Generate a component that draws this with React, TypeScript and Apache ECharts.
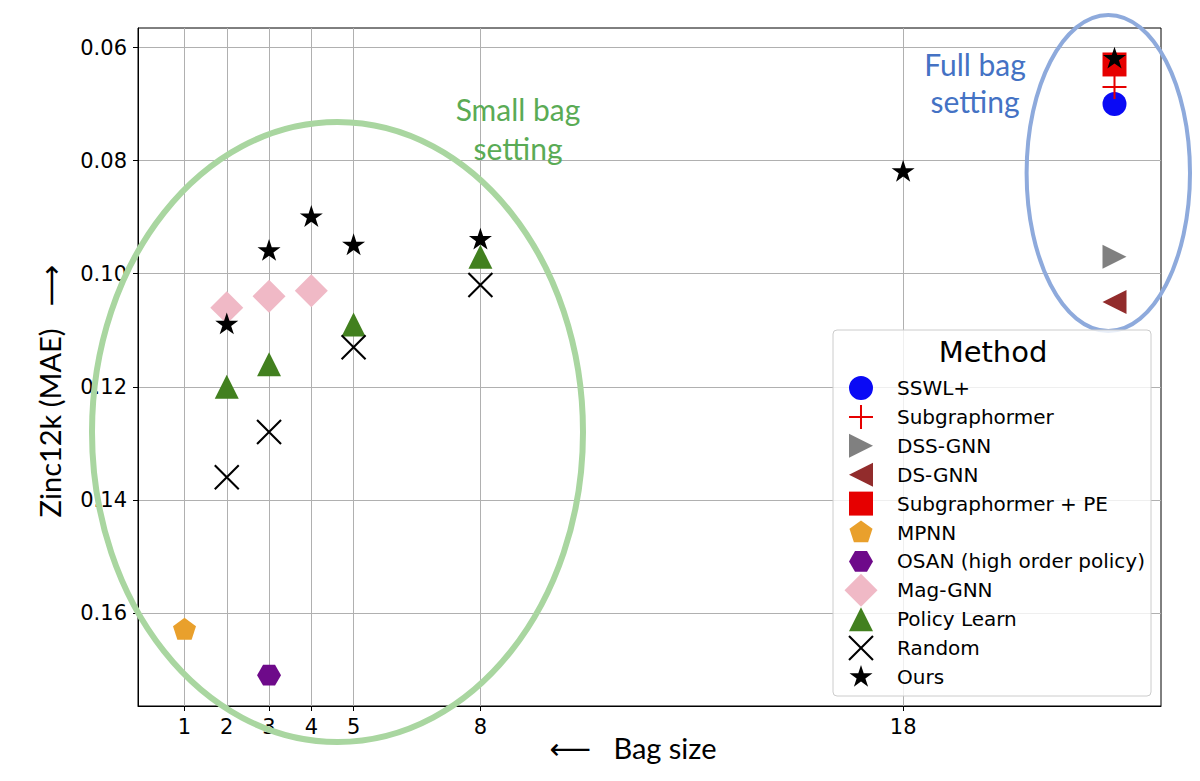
import React, { useEffect, useRef } from "react";
import * as echarts from "echarts";

// ---- data ----
const xTicks = [1, 2, 3, 4, 5, 8, 18];
const yTicks = [0.06, 0.08, 0.1, 0.12, 0.14, 0.16];

const methods = [
  "SSWL+",
  "Subgraphormer",
  "DSS-GNN",
  "DS-GNN",
  "Subgraphormer + PE",
  "MPNN",
  "OSAN (high order policy)",
  "Mag-GNN",
  "Policy Learn",
  "Random",
  "Ours",
];

const sswlBag = [23];
const sswlMae = [0.07];
const subgraphormerBag = [23];
const subgraphormerMae = [0.067];
const dssGnnBag = [23];
const dssGnnMae = [0.097];
const dsGnnBag = [23];
const dsGnnMae = [0.105];
const subgraphormerPeBag = [23];
const subgraphormerPeMae = [0.063];
const mpnnBag = [1];
const mpnnMae = [0.163];
const osanBag = [3];
const osanMae = [0.171];
const magGnnBag = [2, 3, 4];
const magGnnMae = [0.106, 0.104, 0.103];
const policyLearnBag = [2, 3, 5, 8];
const policyLearnMae = [0.12, 0.116, 0.109, 0.097];
const randomBag = [2, 3, 5, 8];
const randomMae = [0.136, 0.128, 0.113, 0.102];
const oursBag = [2, 3, 4, 5, 8, 18, 23];
const oursMae = [0.109, 0.096, 0.09, 0.095, 0.094, 0.082, 0.062];

// ---- marker shapes (100x100 frame so relative sizes are kept) ----
const FRAME = "M0 0M100 100";
const pt = (p: number[]) => p[0].toFixed(2) + " " + p[1].toFixed(2);
const poly = (pts: number[][]) => "M" + pts.map(pt).join("L") + "Z";
const regular = (n: number, R: number, startDeg: number) => {
  const pts: number[][] = [];
  for (let k = 0; k < n; k++) {
    const a = ((startDeg + (360 / n) * k) * Math.PI) / 180;
    pts.push([50 + R * Math.cos(a), 50 + R * Math.sin(a)]);
  }
  return pts;
};
const starPts = (R: number, r: number) => {
  const pts: number[][] = [];
  for (let k = 0; k < 10; k++) {
    const a = ((-90 + 36 * k) * Math.PI) / 180;
    const rr = k % 2 === 0 ? R : r;
    pts.push([50 + rr * Math.cos(a), 50 + rr * Math.sin(a)]);
  }
  return pts;
};
const bar = (p1: number[], p2: number[], t: number) => {
  const dx = p2[0] - p1[0];
  const dy = p2[1] - p1[1];
  const L = Math.hypot(dx, dy);
  const nx = (-dy / L) * t;
  const ny = (dx / L) * t;
  return poly([
    [p1[0] + nx, p1[1] + ny],
    [p2[0] + nx, p2[1] + ny],
    [p2[0] - nx, p2[1] - ny],
    [p1[0] - nx, p1[1] - ny],
  ]);
};
const h = 33.3;
const lo = 50 - h;
const hi = 50 + h;
const sym = {
  circle: "path://" + FRAME + `M${lo} 50A${h} ${h} 0 1 1 ${hi} 50A${h} ${h} 0 1 1 ${lo} 50Z`,
  plus: "path://" + FRAME + bar([lo, 50], [hi, 50], 2.8) + bar([50, lo], [50, hi], 2.8),
  triRight: "path://" + FRAME + poly([[lo, lo], [hi, 50], [lo, hi]]),
  triLeft: "path://" + FRAME + poly([[hi, lo], [hi, hi], [lo, 50]]),
  square: "path://" + FRAME + poly([[lo, lo], [hi, lo], [hi, hi], [lo, hi]]),
  pentagon: "path://" + FRAME + poly(regular(5, 33.6, -90)),
  hexagon: "path://" + FRAME + poly(regular(6, 33.3, 0)),
  diamond: "path://" + FRAME + poly([[50, 4.2], [95.8, 50], [50, 95.8], [4.2, 50]]),
  triUp: "path://" + FRAME + poly([[50, lo], [hi, hi], [lo, hi]]),
  cross: "path://" + FRAME + bar([lo, lo], [hi, hi], 2.9) + bar([hi, lo], [lo, hi], 2.9),
  star: "path://" + FRAME + poly(starPts(33.6, 33.6 * 0.381966)),
};

const seriesDefs = [
  { name: methods[0], bag: sswlBag, mae: sswlMae, symbol: sym.circle, color: "#0a0af5" },
  { name: methods[1], bag: subgraphormerBag, mae: subgraphormerMae, symbol: sym.plus, color: "#e60000" },
  { name: methods[2], bag: dssGnnBag, mae: dssGnnMae, symbol: sym.triRight, color: "#808080" },
  { name: methods[3], bag: dsGnnBag, mae: dsGnnMae, symbol: sym.triLeft, color: "#922c2c" },
  { name: methods[4], bag: subgraphormerPeBag, mae: subgraphormerPeMae, symbol: sym.square, color: "#e60000" },
  { name: methods[5], bag: mpnnBag, mae: mpnnMae, symbol: sym.pentagon, color: "#e9a02c" },
  { name: methods[6], bag: osanBag, mae: osanMae, symbol: sym.hexagon, color: "#6e0a8a" },
  { name: methods[7], bag: magGnnBag, mae: magGnnMae, symbol: sym.diamond, color: "#f0b9c6" },
  { name: methods[8], bag: policyLearnBag, mae: policyLearnMae, symbol: sym.triUp, color: "#42801f" },
  { name: methods[9], bag: randomBag, mae: randomMae, symbol: sym.cross, color: "#000000" },
  { name: methods[10], bag: oursBag, mae: oursMae, symbol: sym.star, color: "#000000" },
];

export default function App() {
  const ref = useRef<HTMLDivElement>(null);

  useEffect(() => {
    if (!ref.current) return;
    const chart = echarts.init(ref.current, null, { renderer: "svg" });

    const allBag = seriesDefs.flatMap((s) => s.bag);
    const allMae = seriesDefs.flatMap((s) => s.mae);
    const bMin = Math.min(...allBag);
    const bMax = Math.max(...allBag);
    const mMin = Math.min(...allMae);
    const mMax = Math.max(...allMae);
    const xPad = (bMax - bMin) * 0.05;
    const yPad = (mMax - mMin) * 0.05;

    const tickFont = { fontSize: 21, fontFamily: "DejaVu Sans", color: "#000" };

    chart.setOption({
      animation: false,
      backgroundColor: "#ffffff",
      grid: {
        left: 138,
        right: 39,
        top: 28,
        bottom: 75,
        show: true,
        borderColor: "#000",
        borderWidth: 1,
        backgroundColor: "transparent",
      },
      xAxis: {
        type: "value",
        min: bMin - xPad,
        max: bMax + xPad,
        axisLine: { show: true, onZero: false, lineStyle: { color: "#000", width: 1 } },
        axisTick: { show: true, length: 5, customValues: xTicks, lineStyle: { color: "#000" } },
        axisLabel: { ...tickFont, margin: 10, customValues: xTicks },
        splitLine: { show: true, lineStyle: { color: "#b0b0b0", width: 1 } },
      },
      yAxis: {
        type: "value",
        inverse: true,
        min: mMin - yPad,
        max: mMax + yPad,
        axisLine: { show: true, onZero: false, lineStyle: { color: "#000", width: 1 } },
        axisTick: { show: true, length: 5, customValues: yTicks, lineStyle: { color: "#000" } },
        axisLabel: {
          ...tickFont,
          margin: 11,
          customValues: yTicks,
          formatter: (v: number) => v.toFixed(2),
        },
        splitLine: { show: true, lineStyle: { color: "#b0b0b0", width: 1 } },
      },
      legend: {
        orient: "vertical",
        left: 843,
        top: 370,
        padding: 0,
        itemWidth: 62,
        itemHeight: 36,
        itemGap: -7.1,
        selectedMode: false,
        data: methods,
        textStyle: { fontSize: 20, fontFamily: "DejaVu Sans", color: "#000" },
        z: 6,
      },
      graphic: [
        {
          type: "ellipse",
          silent: true,
          z: 1,
          shape: { cx: 337.5, cy: 432, rx: 245.5, ry: 310 },
          style: { fill: "none", stroke: "#a9d6a0", lineWidth: 6 },
        },
        {
          type: "ellipse",
          silent: true,
          z: 1,
          shape: { cx: 1108.3, cy: 173, rx: 81.7, ry: 158 },
          style: { fill: "none", stroke: "#8eaadc", lineWidth: 4 },
        },
        {
          type: "text",
          silent: true,
          z: 1,
          x: 518,
          y: 128,
          style: {
            text: "Small bag\nsetting",
            fill: "#5aab55",
            fontSize: 30,
            fontFamily: "Lato",
            lineHeight: 39,
            align: "center",
            verticalAlign: "middle",
            textAlign: "center",
            textVerticalAlign: "middle",
          },
        },
        {
          type: "text",
          silent: true,
          z: 1,
          x: 975,
          y: 82,
          style: {
            text: "Full bag\nsetting",
            fill: "#4472c4",
            fontSize: 30,
            fontFamily: "Lato",
            lineHeight: 37,
            align: "center",
            verticalAlign: "middle",
            textAlign: "center",
            textVerticalAlign: "middle",
          },
        },
        {
          type: "rect",
          silent: true,
          z: 5,
          shape: { x: 833, y: 330, width: 318, height: 366, r: 4 },
          style: { fill: "rgba(255,255,255,0.8)", stroke: "#cccccc", lineWidth: 1 },
        },
        {
          type: "text",
          silent: true,
          z: 7,
          x: 993,
          y: 352,
          style: {
            text: "Method",
            fill: "#000",
            fontSize: 29,
            fontFamily: "DejaVu Sans",
            align: "center",
            verticalAlign: "middle",
            textAlign: "center",
            textVerticalAlign: "middle",
          },
        },
        {
          type: "text",
          silent: true,
          z: 7,
          x: 633,
          y: 747,
          style: {
            text: "\u27F5   Bag size",
            fill: "#000",
            fontSize: 29,
            fontFamily: "Lato, DejaVu Sans",
            align: "center",
            verticalAlign: "middle",
            textAlign: "center",
            textVerticalAlign: "middle",
          },
        },
        {
          type: "text",
          silent: true,
          z: 7,
          x: 49,
          y: 391,
          rotation: Math.PI / 2,
          style: {
            text: "Zinc12k (MAE)   \u27F6",
            fill: "#000",
            fontSize: 29,
            fontFamily: "Lato, DejaVu Sans",
            align: "center",
            verticalAlign: "middle",
            textAlign: "center",
            textVerticalAlign: "middle",
          },
        },
      ],
      series: seriesDefs.map((s) => ({
        name: s.name,
        type: "scatter",
        symbol: s.symbol,
        symbolSize: 36,
        itemStyle: { color: s.color, opacity: 1 },
        emphasis: { disabled: true },
        data: s.bag.map((b, i) => [b, s.mae[i]]),
      })),
    });

    return () => chart.dispose();
  }, []);

  return (
    <div
      ref={ref}
      style={{ position: "fixed", left: 0, top: 0, width: 1200, height: 781, background: "#fff" }}
    />
  );
}
